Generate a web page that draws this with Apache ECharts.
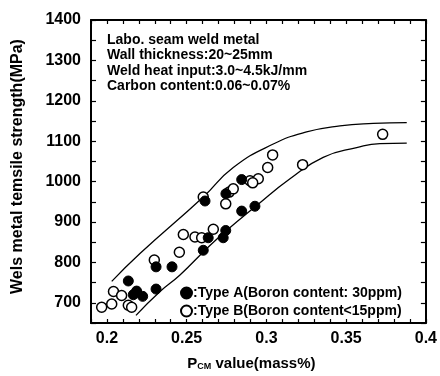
<!DOCTYPE html>
<html>
<head>
<meta charset="utf-8">
<script src="https://cdn.jsdelivr.net/npm/echarts@6/dist/echarts.min.js"></script>
<style>
  html, body { margin: 0; padding: 0; background: #fff; }
  #chart { width: 440px; height: 376px; }
</style>
</head>
<body>
<div id="chart"></div>
<script>
// tick labels
const xLabelValues = [0.2, 0.25, 0.3, 0.35, 0.4]
const yLabelValues = [700, 800, 900, 1000, 1100, 1200, 1300, 1400]

// Type A (boron 30ppm), filled circles: [Pcm, strength]
const typeA = [
  [0.2134, 754], [0.2186, 729], [0.2165, 720], [0.2224, 716],
  [0.2308, 734], [0.2308, 789], [0.2408, 789], [0.2604, 830],
  [0.2635, 861], [0.2729, 861], [0.2745, 879], [0.2615, 952],
  [0.2746, 970], [0.2845, 1005], [0.2845, 927], [0.2928, 939]
]

// Type B (boron <15ppm), open circles
const typeB = [
  [0.1967, 689], [0.2030, 697], [0.2041, 728], [0.2092, 718],
  [0.2134, 694], [0.2155, 689], [0.2297, 806], [0.2454, 825],
  [0.2479, 869], [0.2552, 863], [0.2594, 861], [0.2667, 882],
  [0.2604, 962], [0.2745, 945], [0.2767, 974], [0.2792, 982],
  [0.2897, 1002], [0.2949, 1007], [0.2914, 997], [0.3008, 1035],
  [0.3039, 1066], [0.3227, 1042], [0.3729, 1117]
]

// band boundaries
const upperBound = [
  [0.203, 753], [0.2207, 822], [0.2604, 962], [0.2792, 1035],
  [0.3043, 1093], [0.3252, 1123], [0.3461, 1138], [0.367, 1144], [0.388, 1146]
]
const lowerBound = [
  [0.2182, 669], [0.2333, 728], [0.2458, 769], [0.2625, 834],
  [0.275, 879], [0.2939, 941], [0.3148, 1007], [0.3356, 1060],
  [0.3566, 1084], [0.3712, 1094], [0.388, 1095]
]

const font = 'Liberation Sans, Arial, sans-serif'
const chart = echarts.init(document.getElementById('chart'))

const isLabel = (list, v) => list.some(t => Math.abs(t - v) < 1e-6)

const frameX = (pos, showLabel) => ({
  type: 'value',
  position: pos,
  min: 0.19,
  max: 0.4,
  interval: 0.01,
  axisLine: { show: true, onZero: false, lineStyle: { color: '#000', width: 2 } },
  axisTick: { show: true, inside: true, length: 4, lineStyle: { color: '#000', width: 1.2 } },
  splitLine: { show: false },
  axisLabel: {
    show: showLabel,
    margin: 8,
    color: '#000',
    fontFamily: font,
    fontWeight: 'bold',
    fontSize: 16,
    formatter: (v) => (isLabel(xLabelValues, v) ? String(+v.toFixed(2)) : '')
  }
})

const frameY = (pos, showLabel) => ({
  type: 'value',
  position: pos,
  min: 650,
  max: 1400,
  interval: 50,
  axisLine: { show: true, onZero: false, lineStyle: { color: '#000', width: 2 } },
  axisTick: { show: true, inside: true, length: 5, lineStyle: { color: '#000', width: 1.2 } },
  splitLine: { show: false },
  axisLabel: {
    show: showLabel,
    margin: 10,
    color: '#000',
    fontFamily: font,
    fontWeight: 'bold',
    fontSize: 16,
    formatter: (v) => (isLabel(yLabelValues, v) ? String(v) : '')
  }
})

const xBottom = frameX('bottom', true)
xBottom.name = '{a|P}{b|CM}{a| value(mass%)}'
xBottom.nameLocation = 'middle'
xBottom.nameGap = 30
xBottom.nameTextStyle = {
  padding: [0, 14, 0, 0],
  rich: {
    a: { fontFamily: font, fontWeight: 'bold', fontSize: 15, color: '#000', lineHeight: 18, verticalAlign: 'bottom' },
    b: { fontFamily: font, fontWeight: 'bold', fontSize: 9, color: '#000', lineHeight: 14, verticalAlign: 'bottom' }
  }
}

const yLeft = frameY('left', true)
yLeft.name = 'Wels metal temsile strength(MPa)'
yLeft.nameLocation = 'middle'
yLeft.nameRotate = 90
yLeft.nameGap = 65
yLeft.nameTextStyle = {
  fontFamily: font, fontWeight: 'bold', fontSize: 16, color: '#000', padding: [0, 0, 0, 10]
}

const pointStyle = { symbol: 'circle', symbolSize: 10 }

chart.setOption({
  animation: false,
  backgroundColor: '#fff',
  grid: { left: 91, right: 13, top: 20, bottom: 51 },
  xAxis: [xBottom, frameX('top', false)],
  yAxis: [yLeft, frameY('right', false)],
  legend: {
    data: ['A', 'B'],
    orient: 'vertical',
    left: 180,
    top: 286,
    itemWidth: 11,
    itemHeight: 11,
    itemGap: 4,
    padding: 0,
    textStyle: { color: '#000', fontFamily: font, fontWeight: 'bold', fontSize: 14, padding: [0, 0, 0, -4] },
    formatter: (name) => name === 'A'
      ? ':Type A(Boron content: 30ppm)'
      : ':Type B(Boron content<15ppm)'
  },
  graphic: [{
    type: 'text',
    left: 107,
    top: 32,
    style: {
      text: 'Labo. seam weld metal\nWall thickness:20~25mm\nWeld heat input:3.0~4.5kJ/mm\nCarbon content:0.06~0.07%',
      fill: '#000',
      font: 'bold 14px ' + font,
      lineHeight: 15.5
    }
  }],
  series: [
    {
      name: 'upper', type: 'line', data: upperBound, smooth: true, showSymbol: false,
      lineStyle: { color: '#000', width: 1.3 }, z: 1
    },
    {
      name: 'lower', type: 'line', data: lowerBound, smooth: true, showSymbol: false,
      lineStyle: { color: '#000', width: 1.3 }, z: 1
    },
    {
      name: 'B', type: 'scatter', data: typeB, ...pointStyle,
      itemStyle: { color: '#fff', borderColor: '#000', borderWidth: 1.5, opacity: 1 }, z: 3
    },
    {
      name: 'A', type: 'scatter', data: typeA, ...pointStyle,
      itemStyle: { color: '#000', borderColor: '#000', borderWidth: 1, opacity: 1 }, z: 4
    }
  ]
})
</script>
</body>
</html>
